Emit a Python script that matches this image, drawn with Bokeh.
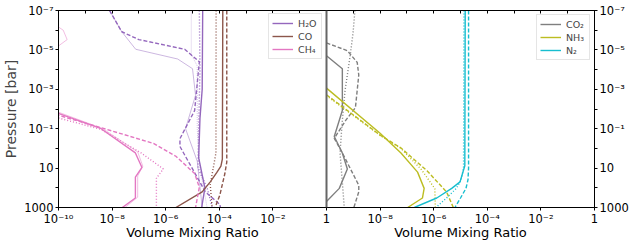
from bokeh.plotting import figure
from bokeh.models import (Range1d, LogScale, LogAxis, FixedTicker, Span, Legend,
                          LegendItem)
from bokeh.embed import file_html
from bokeh.resources import INLINE

# ---------------- data ----------------
# Left panel: H2O, CO, CH4
h2o_solid_x = [2.4e-5, 2.3e-5, 1.9e-5, 1.7e-5, 2.9e-5, 2.2e-5]
h2o_solid_p = [1e-7, 1e-3, 3e-2, 3, 100, 1000]
h2o_dotted_x = [1.8e-5, 1.9e-5, 1.7e-5, 1.6e-5, 3.5e-5, 5.5e-5]
h2o_dotted_p = [1e-7, 1e-4, 0.1, 10, 100, 1000]
h2o_dashed_x = [8e-9, 2.3e-8, 1e-7, 5.1e-6, 1.8e-5, 1.2e-5, 3.4e-6, 3.4e-6, 3e-5, 1.05e-4, 1.1e-4]
h2o_dashed_p = [1e-7, 1.2e-6, 3e-6, 9.3e-6, 4e-5, 0.012, 0.32, 0.8, 160, 700, 1000]
h2o_thin_x = [8e-9, 2.3e-8, 7.6e-8, 2.8e-6, 1e-5, 1.3e-5, 5.5e-6, 1.5e-5, 2.3e-5]
h2o_thin_p = [1e-7, 1.2e-6, 9.3e-6, 2.9e-5, 9e-5, 2e-3, 0.1, 4.4, 1000]
h2o_thindot_x = [9e-6, 9e-6, 1.5e-5, 1.5e-5, 1.9e-5, 3.5e-5]
h2o_thindot_p = [1e-7, 1.7e-5, 6.5e-5, 0.1, 10, 1000]

co_solid_x = [1.35e-4, 1.3e-4, 1.15e-4, 8e-5, 4.6e-5, 2.3e-5, 2.4e-6]
co_solid_p = [1e-7, 3.5, 8, 17, 50, 160, 1000]
co_dotted_x = [7.6e-5, 7.5e-5, 4.6e-5, 5.4e-5]
co_dotted_p = [1e-7, 1.7, 70, 1000]
co_dashed_x = [1.9e-4, 1.9e-4, 1.6e-4, 1.05e-4, 7e-5]
co_dashed_p = [1e-7, 5, 20, 230, 1000]

ch4_solid_x = [7.8e-11, 3.9e-9, 7.4e-8, 1.3e-7, 7.4e-8, 7.4e-8, 2.4e-8]
ch4_solid_p = [0.015, 0.1, 1.7, 9.3, 29, 330, 1000]
ch4_dotted_x = [7.8e-11, 4e-9, 1.2e-7, 8.1e-7, 4.5e-7, 4.5e-7]
ch4_dotted_p = [0.026, 0.11, 1.7, 11, 33, 1000]
ch4_dashed_x = [7.8e-11, 5.2e-9, 3.5e-7, 2.4e-6, 1.2e-5, 1.8e-5, 1.3e-5]
ch4_dashed_p = [0.019, 0.1, 0.56, 2.5, 19, 93, 1000]
ch4_thin_x = [7e-11, 1.5e-10, 2.1e-10, 9e-11, 1e-12, 8e-11, 4.5e-9, 9e-8, 1.4e-7, 9e-8, 9e-8, 3e-8]
ch4_thin_p = [5e-7, 1e-6, 3e-6, 7e-6, 1e-3, 0.013, 0.1, 1.5, 8, 25, 300, 1000]

# Right panel: CO2, NH3, N2
co2_solid_x = [1e-10, 3.9e-10, 3.9e-10, 1.95e-10, 3.9e-10, 6e-10, 3e-10, 1e-10]
co2_solid_p = [2e-5, 9.1e-5, 0.012, 0.25, 1.7, 11, 107, 490]
co2_dashed_x = [1e-10, 6e-10, 1.4e-9, 1.6e-9, 1.2e-9, 5.2e-10, 1.95e-10, 3.9e-10, 1.6e-9, 1.6e-9, 1.05e-9]
co2_dashed_p = [4.4e-6, 1.1e-5, 4.3e-5, 1.9e-4, 8.5e-3, 0.038, 0.31, 1.7, 74, 160, 1000]
co2_dotted_x = [1.15e-9, 9.8e-10, 7.6e-10, 4.9e-10, 3.8e-10, 3.2e-10, 3.8e-10, 4.6e-10]
co2_dotted_p = [1e-7, 1.35e-6, 2.1e-5, 1.2e-3, 0.058, 1.7, 33, 1000]

nh3_solid_x = [1e-10, 1e-8, 6e-8, 2.5e-7, 4.4e-7, 3.8e-7, 1.07e-7]
nh3_solid_p = [8.7e-4, 0.17, 1.7, 16, 107, 330, 1000]
nh3_dashed_x = [1e-10, 1e-8, 6e-8, 5.6e-7, 3e-6, 5.4e-6]
nh3_dashed_p = [1.9e-3, 0.21, 0.95, 13.5, 160, 1000]
nh3_dotted_x = [1e-10, 1e-8, 6e-8, 3.5e-7, 1.1e-6, 1.15e-6]
nh3_dotted_p = [2.1e-3, 0.22, 1.0, 12, 110, 1000]

n2_solid_x = [1.5e-5, 1.45e-5, 9.6e-6, 4.7e-6, 1.3e-6, 1.9e-7]
n2_solid_p = [1e-7, 7.6, 50, 107, 330, 1000]
n2_dotted_x = [1.35e-5, 1.3e-5, 1.05e-5, 7e-6, 3e-6, 1.2e-6]
n2_dotted_p = [1e-7, 10, 40, 107, 330, 1000]
n2_dashed_x = [2.0e-5, 2.0e-5, 1.9e-5, 1.6e-5, 1e-5, 6.2e-6]
n2_dashed_p = [1e-7, 10, 40, 107, 330, 1000]

# ticks / labels
x_tick_exps_left = [-10, -8, -6, -4, -2, 0]
x_tick_labels_left = ["10⁻¹⁰", "10⁻⁸", "10⁻⁶", "10⁻⁴", "10⁻²", "1"]
x_tick_exps_right = [2, 4, 6, 8, 10]          # positions of the right panel on the shared axis
x_tick_labels_right = ["10⁻⁸", "10⁻⁶", "10⁻⁴", "10⁻²", "1"]
y_tick_exps = list(range(-7, 4))
y_tick_labels = {-7: "10⁻⁷", -5: "10⁻⁵", -3: "10⁻³", -1: "10⁻¹", 1: "10", 3: "1000"}
x_title = "Volume Mixing Ratio"
x_title_exps = [-5, 5]                          # centre of each panel on the shared axis
y_title = "Pressure [bar]"

species_left = ["H₂O", "CO", "CH₄"]
species_right = ["CO₂", "NH₃", "N₂"]
colors = {"H₂O": "#9467bd", "CO": "#8c564b", "CH₄": "#e377c2",
          "CO₂": "#7f7f7f", "NH₃": "#bcbd22", "N₂": "#17becf"}

FONT = "DejaVu Sans"
TICK_FS = "11.5px"

def e(k):
    return float(f"1e{k}")

p = figure(width=631, height=242, x_axis_type="log", y_axis_type="log",
           x_range=Range1d(1e-10, 1e10), y_range=Range1d(1000, 1e-7),
           output_backend="svg", toolbar_location=None,
           min_border_left=53, min_border_right=0, min_border_top=10, min_border_bottom=0)
p.extra_x_ranges = {"right": Range1d(1e-20, 1)}
p.extra_x_scales = {"right": LogScale()}
p.grid.visible = False
p.outline_line_color = "black"
p.outline_line_width = 1
p.background_fill_color = "white"

# bottom x axis
xa = p.xaxis[0]
xa.ticker = FixedTicker(ticks=[e(k) for k in x_tick_exps_left + x_tick_exps_right])
ov = {}
for k, lab in zip(x_tick_exps_left, x_tick_labels_left):
    ov[e(k)] = lab
for k, lab in zip(x_tick_exps_right, x_tick_labels_right):
    ov[e(k)] = lab
xa.major_label_overrides = ov
xa.major_tick_out = 3
xa.major_tick_in = 0
xa.minor_tick_line_color = None
xa.major_label_standoff = 1
xa.major_label_text_font = FONT
xa.major_label_text_font_size = TICK_FS
xa.major_label_text_color = "black"
xa.axis_line_color = "black"

# second "axis" below carrying one title under each panel
xt = LogAxis(ticker=FixedTicker(ticks=[e(k) for k in x_title_exps]),
             major_label_overrides={e(k): x_title for k in x_title_exps},
             major_tick_line_color=None, minor_tick_line_color=None,
             axis_line_color=None, major_tick_out=0, major_tick_in=0,
             major_label_standoff=-4, major_label_text_font=FONT,
             major_label_text_font_size="13px", major_label_text_color="black")
p.add_layout(xt, "below")

# left y axis
ya = p.yaxis[0]
ya.ticker = FixedTicker(ticks=[e(k) for k in y_tick_exps])
ya.major_label_overrides = {e(k): y_tick_labels.get(k, "") for k in y_tick_exps}
ya.major_tick_out = 3
ya.major_tick_in = 0
ya.minor_tick_line_color = None
ya.major_label_standoff = 2
ya.major_label_text_font = FONT
ya.major_label_text_font_size = TICK_FS
ya.major_label_text_color = "black"
ya.axis_label = y_title
ya.axis_label_text_font = FONT
ya.axis_label_text_font_size = "14px"
ya.axis_label_text_font_style = "normal"
ya.axis_label_standoff = 2
ya.axis_line_color = "black"

# right y axis
ry = LogAxis(ticker=FixedTicker(ticks=[e(k) for k in y_tick_exps]),
             major_label_overrides={e(k): y_tick_labels.get(k, "") for k in y_tick_exps},
             major_tick_out=3, major_tick_in=0, minor_tick_line_color=None,
             major_label_standoff=2, major_label_text_font=FONT,
             major_label_text_font_size=TICK_FS, major_label_text_color="black",
             axis_line_color="black")
p.add_layout(ry, "right")

# top axis: decade ticks only
ta = LogAxis(ticker=FixedTicker(ticks=[e(k) for k in range(-10, 11)]),
             major_tick_out=0, major_tick_in=3, minor_tick_line_color=None,
             major_label_text_font_size="1px", major_label_text_color=None,
             major_label_standoff=0, axis_line_color="black")
p.add_layout(ta, "above")

# panel separator
p.add_layout(Span(location=1, dimension="height", line_color="#666666", line_width=2))

styles = {
    "solid":   dict(line_width=1.4, line_alpha=1.0),
    "dashed":  dict(line_width=1.4, line_alpha=1.0, line_dash="4 2"),
    "dotted":  dict(line_width=1.4, line_alpha=1.0, line_dash="1 2"),
    "thin":    dict(line_width=0.8, line_alpha=0.6),
    "thindot": dict(line_width=0.8, line_alpha=0.5, line_dash="1 1"),
}

def draw(x, pr, sp, style, right=False):
    kw = dict(styles[style])
    if right:
        kw["x_range_name"] = "right"
    return p.line(x, pr, line_color=colors[sp], **kw)

main = {}
# left panel
draw(h2o_thindot_x, h2o_thindot_p, "H₂O", "thindot")
draw(h2o_thin_x, h2o_thin_p, "H₂O", "thin")
draw(ch4_thin_x, ch4_thin_p, "CH₄", "thin")
draw(h2o_dashed_x, h2o_dashed_p, "H₂O", "dashed")
draw(h2o_dotted_x, h2o_dotted_p, "H₂O", "dotted")
main["H₂O"] = draw(h2o_solid_x, h2o_solid_p, "H₂O", "solid")
draw(co_dashed_x, co_dashed_p, "CO", "dashed")
draw(co_dotted_x, co_dotted_p, "CO", "dotted")
main["CO"] = draw(co_solid_x, co_solid_p, "CO", "solid")
draw(ch4_dashed_x, ch4_dashed_p, "CH₄", "dashed")
draw(ch4_dotted_x, ch4_dotted_p, "CH₄", "dotted")
main["CH₄"] = draw(ch4_solid_x, ch4_solid_p, "CH₄", "solid")
# right panel
draw(co2_dashed_x, co2_dashed_p, "CO₂", "dashed", True)
draw(co2_dotted_x, co2_dotted_p, "CO₂", "dotted", True)
main["CO₂"] = draw(co2_solid_x, co2_solid_p, "CO₂", "solid", True)
draw(nh3_dashed_x, nh3_dashed_p, "NH₃", "dashed", True)
draw(nh3_dotted_x, nh3_dotted_p, "NH₃", "dotted", True)
main["NH₃"] = draw(nh3_solid_x, nh3_solid_p, "NH₃", "solid", True)
draw(n2_dashed_x, n2_dashed_p, "N₂", "dashed", True)
draw(n2_dotted_x, n2_dotted_p, "N₂", "dotted", True)
main["N₂"] = draw(n2_solid_x, n2_solid_p, "N₂", "solid", True)

def make_legend(names, loc, margin):
    lg = Legend(items=[LegendItem(label=n, renderers=[main[n]]) for n in names],
                location=loc, margin=margin, padding=3, spacing=1,
                glyph_width=21, glyph_height=12, label_height=12,
                label_standoff=5, label_text_font=FONT, label_text_font_size="9.5px",
                border_line_color="#cccccc", border_line_width=1,
                background_fill_alpha=0.85)
    return lg

p.add_layout(make_legend(species_left, (210, 148), 0))
p.add_layout(make_legend(species_right, "top_right", 4))

open("out.html", "w").write(file_html(p, INLINE))
